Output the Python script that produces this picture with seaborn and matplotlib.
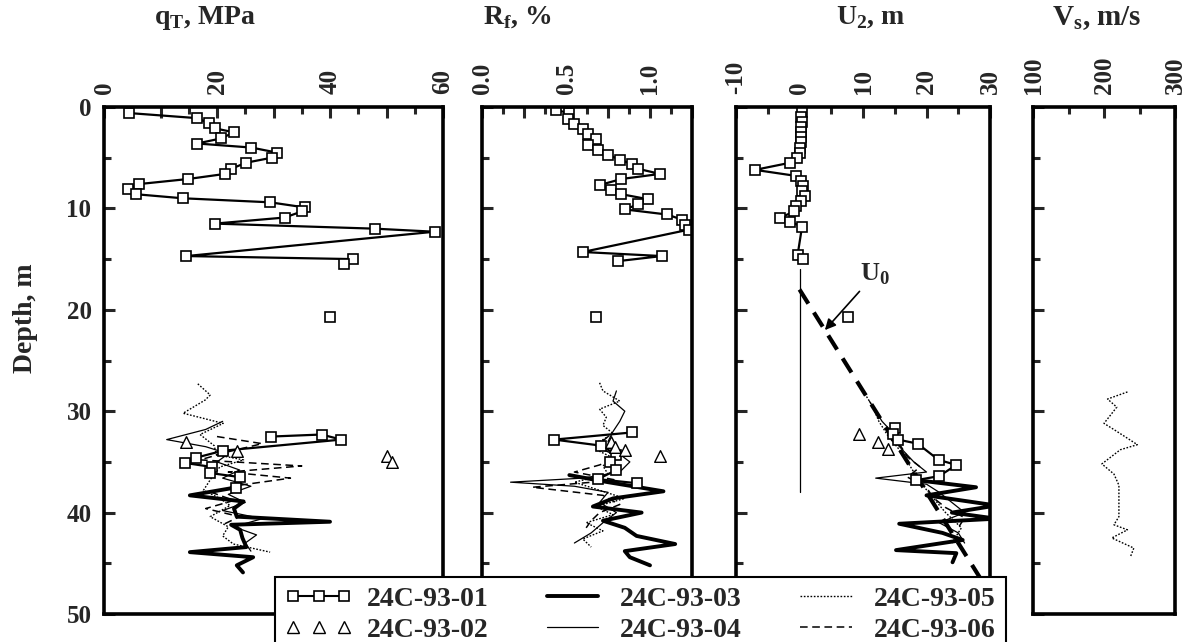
import matplotlib
matplotlib.use('Agg')
import pandas as pd
import matplotlib.pyplot as plt
from matplotlib.lines import Line2D
from matplotlib.ticker import MultipleLocator
import seaborn as sns

# ---- data (depth in m) ----
# 24C-93-01 (squares), upper part
qt01_depth = [0.6, 1.1, 1.6, 2.1, 2.5, 3.1, 3.6, 4.0, 4.5, 5.0, 5.5, 6.1, 6.6, 7.1, 7.6, 8.1, 8.6, 9.0,
              9.4, 9.9, 10.3, 10.9, 11.5, 12.0, 12.3, 14.7, 15.0, 15.5]
qt01 = [4.5, 16.5, 18.5, 19.6, 23.0, 20.7, 16.5, 26.1, 30.6, 29.7, 25.1, 22.5, 21.4, 14.9, 6.2, 4.2, 5.6, 13.9,
        29.4, 35.5, 35.0, 32.0, 19.6, 48.0, 58.5, 14.6, 44.0, 42.5]
rf01_depth = [0.3, 0.6, 1.2, 1.7, 2.2, 2.7, 3.2, 3.7, 4.2, 4.7, 5.2, 5.6, 6.1, 6.6, 7.1, 7.7, 8.2, 8.6,
              9.1, 9.6, 10.1, 10.6, 11.1, 11.6, 12.1, 14.3, 14.7, 15.2]
rf01 = [0.44, 0.52, 0.51, 0.55, 0.60, 0.63, 0.68, 0.63, 0.69, 0.75, 0.82, 0.89, 0.93, 1.06, 0.83, 0.70, 0.77, 0.83,
        0.99, 0.93, 0.85, 1.10, 1.19, 1.21, 1.23, 0.60, 1.07, 0.81]
u01_depth = [0.5, 1.0, 1.5, 2.0, 2.5, 3.0, 3.5, 4.0, 4.5, 5.0, 5.5, 6.2, 6.8, 7.3, 7.8, 8.3, 8.8, 9.3,
             9.8, 10.3, 10.9, 11.3, 11.8, 14.6, 15.0]
u01 = [0.4, 0.3, 0.4, 0.3, 0.2, 0.3, 0.2, 0.1, 0.0, -0.4, -1.5, -7.0, -0.5, 0.3, 0.6, 0.4, 0.8, 0.3,
       -0.5, -0.8, -3.0, -1.5, 0.4, -0.3, 0.5]
# 24C-93-01 single reading near 21 m
mid01_depth = [20.7]
qt01_mid = [40.0]
rf01_mid = [0.68]
u01_mid = [7.6]
# 24C-93-01, lower part
qt01_low_depth = [32.5, 32.3, 32.8, 33.9, 34.6, 35.1, 35.5, 36.1, 36.5, 37.6]
qt01_low = [29.6, 38.5, 42.0, 21.0, 16.2, 14.3, 19.1, 18.8, 24.1, 23.4]
rf01_low_depth = [32.1, 32.8, 33.4, 34.3, 35.0, 35.8, 36.7, 37.1]
rf01_low = [0.89, 0.43, 0.71, 0.80, 0.76, 0.80, 0.69, 0.92]
u01_low_depth = [31.7, 32.2, 32.8, 33.2, 34.8, 35.3, 36.4, 36.8]
u01_low = [15.1, 14.7, 15.5, 18.6, 21.9, 24.7, 22.0, 18.4]

# 24C-93-02 (triangles)
qt02_depth = [33.0, 33.9, 34.4, 35.0]
qt02 = [14.6, 23.5, 50.0, 51.0]
rf02_depth = [33.0, 33.5, 33.8, 34.4]
rf02 = [0.77, 0.79, 0.85, 1.06]
u02_depth = [32.2, 33.0, 33.7]
u02 = [9.3, 12.3, 14.0]

# 24C-93-03 (thick solid)
qt03_depth = [36.8, 37.6, 38.3, 38.9, 39.6, 40.4, 40.9, 41.2, 41.7, 42.5, 43.4, 43.9, 44.4, 45.2, 45.9]
qt03 = [24.1, 22.5, 15.2, 24.7, 23.0, 23.5, 40.0, 22.5, 24.1, 24.5, 25.2, 15.2, 26.4, 23.5, 24.6]
rf03_depth = [36.3, 37.0, 37.9, 38.6, 39.4, 40.0, 40.8, 41.5, 42.3, 43.1, 43.8, 44.4, 45.2]
rf03 = [0.52, 0.75, 1.08, 0.78, 0.66, 0.95, 0.72, 0.85, 0.92, 1.15, 0.85, 0.88, 1.00]
u03_depth = [36.8, 37.5, 38.3, 39.3, 40.0, 40.6, 41.1, 42.0, 42.7, 43.7, 44.0, 44.9]
u03 = [18.4, 27.8, 20.0, 31.0, 24.0, 31.0, 15.7, 22.5, 25.7, 15.2, 24.7, 24.1]

# 24C-93-04 (thin solid)
qt04_depth = [31.0, 31.8, 32.8, 33.5, 34.2, 35.0, 35.8, 36.6, 37.4, 38.2, 39.0, 39.8, 40.6, 41.4, 42.2, 43.0, 43.8]
qt04 = [21, 18, 11.1, 18, 22, 20, 24, 21, 26, 22, 25, 21, 28, 23, 27, 25, 26]
rf04_depth = [28.0, 29.0, 30.0, 31.0, 32.0, 33.0, 34.0, 35.0, 36.0, 36.6, 37.0, 37.4, 38.0, 39.0, 40.0, 41.0,
              42.0, 43.0]
rf04 = [0.80, 0.78, 0.85, 0.82, 0.78, 0.75, 0.80, 0.88, 0.82, 0.60, 0.17, 0.55, 0.75, 0.70, 0.80, 0.72, 0.65, 0.55]
u04_depth = [29.0, 30.0, 31.0, 32.0, 33.0, 34.0, 35.0, 36.0, 36.6, 37.2, 38.0, 39.0, 40.0, 41.0, 42.0, 43.0]
u04 = [11.0, 12.0, 13.0, 14.5, 15.0, 16.5, 18.0, 20.0, 12.0, 20.0, 22.0, 24.0, 26.0, 22.0, 25.0, 26.0]
# thin trace sitting on U2 = 0 above the sand
u04_zero_depth = [16.0, 38.0]
u04_zero = [0.0, 0.0]

# 24C-93-05 (dotted)
qt05_depth = [27.3, 28.4, 28.9, 30.2, 31.2, 32.3, 33.4, 34.3, 34.8, 35.5, 36.6, 37.8, 38.6, 39.3, 40.4, 41.4,
              42.3, 43.1, 43.9]
qt05 = [16.6, 18.8, 17.9, 14.0, 21.1, 17.0, 19.5, 19.9, 24.7, 20.5, 19.0, 17.6, 20.5, 22.3, 18.8, 22.0,
        21.0, 22.9, 29.4]
rf05_depth = [27.2, 28.0, 29.0, 29.8, 30.6, 31.4, 32.2, 33.0, 33.8, 34.6, 35.4, 36.2, 37.0, 37.8, 38.6, 39.4,
              40.2, 41.0, 41.8, 42.6, 43.4]
rf05 = [0.70, 0.72, 0.82, 0.70, 0.74, 0.72, 0.78, 0.70, 0.68, 0.78, 0.72, 0.75, 0.55, 0.70, 0.85, 0.68,
        0.78, 0.62, 0.72, 0.60, 0.65]
u05_depth = [28.0, 29.5, 31.0, 32.5, 34.0, 35.5, 37.0, 38.5, 40.0, 41.5, 43.0]
u05 = [10.0, 11.5, 12.5, 14.0, 16.0, 17.5, 19.0, 21.0, 23.0, 25.5, 24.0]
vs05_depth = [28.1, 28.8, 29.6, 31.2, 31.9, 33.3, 33.8, 35.2, 36.2, 37.3, 40.4, 41.2, 41.7, 42.5, 43.5, 44.4]
vs05 = [233, 205, 218, 200, 216, 247, 223, 197, 214, 221, 221, 214, 233, 211, 242, 237]

# 24C-93-06 (dashed)
qt06_depth = [32.5, 33.2, 34.0, 34.8, 35.4, 36.0, 36.6, 37.3, 38.0, 38.8, 39.6, 40.4, 41.2]
qt06 = [20, 28, 22, 17, 35, 22, 33, 24, 19, 23, 18, 24, 21]
rf06_depth = [32.5, 33.5, 34.5, 35.3, 36.0, 36.8, 37.5, 38.3, 39.2, 40.0, 40.8, 41.5]
rf06 = [0.75, 0.68, 0.82, 0.70, 0.55, 0.80, 0.30, 0.72, 0.82, 0.70, 0.65, 0.62]
u06_depth = [32.5, 33.5, 34.5, 35.5, 36.5, 37.5, 38.5, 39.5, 40.5, 41.5]
u06 = [14, 16, 17, 19, 17, 20, 21, 23, 26, 25]

# hydrostatic line U0
u0_depth = [18.0, 48.5]
u0 = [0.0, 30.5]

soundings = ['24C-93-01', '24C-93-02', '24C-93-03', '24C-93-04', '24C-93-05', '24C-93-06']
qt_ticks = [0, 10, 20, 30, 40, 50, 60]
qt_labels = ['0', '', '20', '', '40', '', '60']
rf_ticks = [0, 0.25, 0.5, 0.75, 1.0, 1.25]
rf_labels = ['0.0', '', '0.5', '', '1.0', '']
u_ticks = [-10, 0, 10, 20, 30]
u_labels = ['-10', '0', '10', '20', '30']
vs_ticks = [100, 200, 300]
vs_labels = ['100', '200', '300']
depth_ticks = [0, 10, 20, 30, 40, 50]

# ---- style ----
sns.set_style('white')
plt.rcParams['font.family'] = ['Liberation Serif', 'DejaVu Serif']
plt.rcParams['mathtext.fontset'] = 'custom'
plt.rcParams['mathtext.rm'] = 'Liberation Serif:bold'
plt.rcParams['font.weight'] = 'bold'

sq = dict(color='black', lw=1.6, marker='s', markersize=7.5, markerfacecolor='white',
          markeredgecolor='black', markeredgewidth=1.2)
thick = dict(color='black', lw=2.8)
thin = dict(color='black', lw=0.9)
dotted = dict(color='black', lw=1.0, linestyle=(0, (1.2, 1.2)))
dashed = dict(color='black', lw=1.1, linestyle=(0, (5, 3)))


def line(ax, x, y, **kw):
    df = pd.DataFrame({'x': x, 'y': y})
    sns.lineplot(data=df, x='x', y='y', sort=False, estimator=None, ax=ax, legend=False, **kw)


def tri(ax, x, y):
    sns.scatterplot(x=x, y=y, marker='^', s=70, color='white', edgecolor='black', linewidth=1.0,
                    ax=ax, legend=False, zorder=4)


W, H = 1194, 642
fig = plt.figure(figsize=(W / 100, H / 100), dpi=100)


def box(l, r, t=107, b=614):
    return [l / W, 1 - b / H, (r - l) / W, (b - t) / H]


ax1 = fig.add_axes(box(104, 443))
ax2 = fig.add_axes(box(482, 692))
ax3 = fig.add_axes(box(736, 990))
ax4 = fig.add_axes(box(1033, 1175))

# q_T
line(ax1, qt05, qt05_depth, **dotted)
line(ax1, qt06, qt06_depth, **dashed)
line(ax1, qt04, qt04_depth, **thin)
line(ax1, qt03, qt03_depth, **thick)
line(ax1, qt01, qt01_depth, **sq)
line(ax1, qt01_low, qt01_low_depth, **sq)
line(ax1, qt01_mid, mid01_depth, **sq)
tri(ax1, qt02, qt02_depth)

# R_f
line(ax2, rf05, rf05_depth, **dotted)
line(ax2, rf06, rf06_depth, **dashed)
line(ax2, rf04, rf04_depth, **thin)
line(ax2, rf03, rf03_depth, **thick)
line(ax2, rf01, rf01_depth, **sq)
line(ax2, rf01_low, rf01_low_depth, **sq)
line(ax2, rf01_mid, mid01_depth, **sq)
tri(ax2, rf02, rf02_depth)

# U_2
line(ax3, u05, u05_depth, **dotted)
line(ax3, u06, u06_depth, **dashed)
line(ax3, u04, u04_depth, **thin)
line(ax3, u04_zero, u04_zero_depth, **thin)
line(ax3, u03, u03_depth, **thick)
line(ax3, u0, u0_depth, color='black', lw=3.0, linestyle=(0, (4, 2.5)))
line(ax3, u01, u01_depth, **sq)
line(ax3, u01_low, u01_low_depth, **sq)
line(ax3, u01_mid, mid01_depth, **sq)
tri(ax3, u02, u02_depth)
ax3.annotate('U$_0$', xy=(4.0, 22.0), xytext=(9.5, 16.5), fontsize=19, fontweight='bold',
             va='center', ha='left',
             arrowprops=dict(arrowstyle='-|>', color='black', lw=1.2, mutation_scale=16,
                             shrinkA=1, shrinkB=0))

# V_s
line(ax4, vs05, vs05_depth, **dotted)

specs = [(ax1, (0, 60), qt_ticks, qt_labels, 5),
         (ax2, (0, 1.25), rf_ticks, rf_labels, 0.125),
         (ax3, (-10, 30), u_ticks, u_labels, 5),
         (ax4, (100, 300), vs_ticks, vs_labels, 50)]
for ax, lim, ticks, labels, minor in specs:
    ax.set_xlim(*lim)
    ax.set_ylim(50, 0)
    ax.xaxis.tick_top()
    ax.set_xticks(ticks)
    ax.set_xticklabels(labels, rotation=90, fontsize=18, fontweight='bold')
    ax.xaxis.set_minor_locator(MultipleLocator(minor))
    ax.set_yticks(depth_ticks)
    ax.yaxis.set_minor_locator(MultipleLocator(5))
    ax.tick_params(which='both', direction='in', top=True, bottom=False, left=True, right=False,
                   labelbottom=False, labeltop=True, width=2.2)
    ax.tick_params(which='major', length=8, pad=9)
    ax.tick_params(which='minor', length=5)
    ax.set_xlabel('')
    ax.set_ylabel('')
    for s in ax.spines.values():
        s.set_linewidth(2.6)
        s.set_color('black')
    if ax is not ax1:
        ax.tick_params(labelleft=False)
ax1.set_yticklabels([str(d) for d in depth_ticks], fontsize=18, fontweight='bold')

fig.text(25 / W, 1 - 318 / H, 'Depth, m', rotation=90, ha='center', va='center', fontsize=20,
         fontweight='bold')
fig.text(205 / W, 1 - 18 / H, 'q$_\\mathrm{T}$, MPa', ha='center', va='center', fontsize=20,
         fontweight='bold')
fig.text(517 / W, 1 - 18 / H, 'R$_\\mathrm{f}$, %', ha='center', va='center', fontsize=20,
         fontweight='bold')
fig.text(871 / W, 1 - 18 / H, 'U$_\\mathrm{2}$, m', ha='center', va='center', fontsize=20,
         fontweight='bold')
fig.text(1097 / W, 1 - 18 / H, 'V$_\\mathrm{s}$, m/s', ha='center', va='center', fontsize=21,
         fontweight='bold')

handles = [Line2D([], [], **sq),
           Line2D([], [], linestyle='none', marker='^', markersize=8, markerfacecolor='white',
                  markeredgecolor='black', markeredgewidth=1.0),
           Line2D([], [], **thick),
           Line2D([], [], **thin),
           Line2D([], [], **dotted),
           Line2D([], [], **dashed)]
handles[0].set_markersize(7)
handles[0].set_linewidth(1.5)
leg = fig.legend(handles, soundings, ncol=3, loc='upper left', bbox_to_anchor=(275 / W, 1 - 577 / H),
                 frameon=True, fancybox=False, edgecolor='black', framealpha=1, numpoints=3,
                 prop={'family': 'Liberation Serif', 'size': 20}, handlelength=2.45,
                 columnspacing=1.8, borderpad=0.35, labelspacing=0.2, handletextpad=0.5,
                 borderaxespad=0)
leg.get_frame().set_linewidth(1.5)

fig.savefig('out.png', dpi=100)
